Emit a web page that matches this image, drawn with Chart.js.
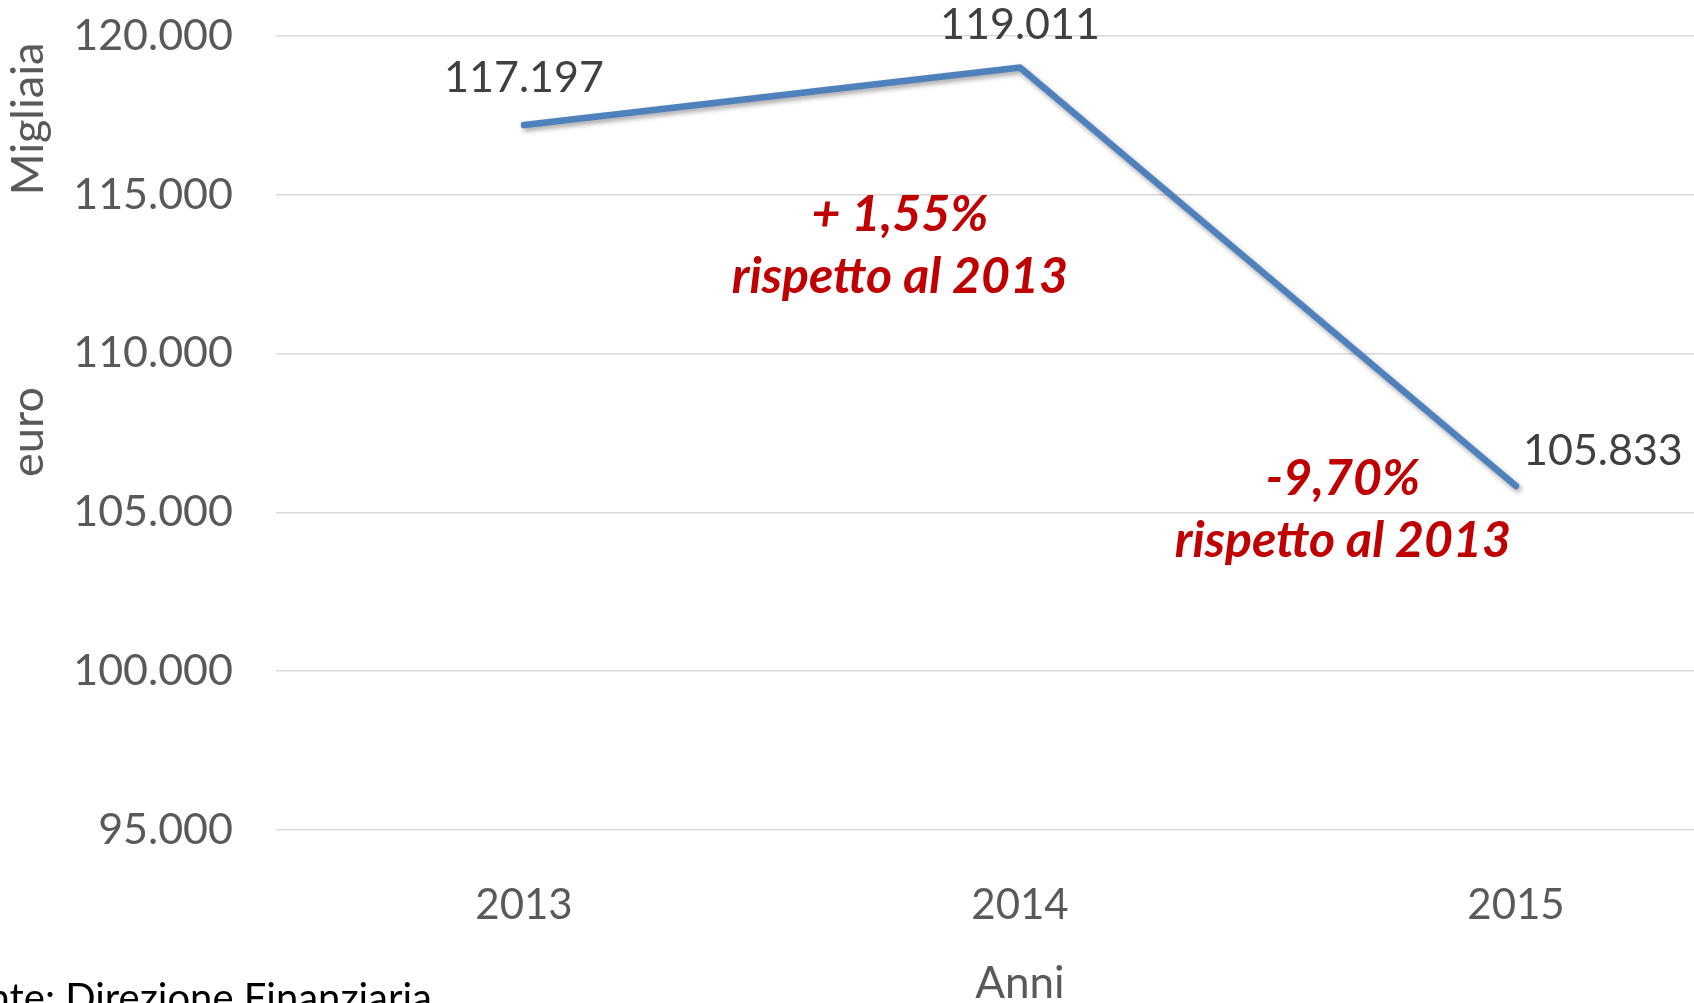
<!DOCTYPE html>
<html>
<head>
<meta charset="utf-8">
<script src="https://cdn.jsdelivr.net/npm/chart.js@4/dist/chart.umd.min.js"></script>
<style>
  html, body { margin: 0; padding: 0; background: #ffffff; overflow: hidden; }
  #wrap { position: absolute; left: 0; top: 0; width: 1780px; height: 1003px; }
  canvas { display: block; }
</style>
</head>
<body>
<div id="wrap"><canvas id="c" width="1780" height="1003"></canvas></div>
<script>
// ---- data ----
const categories = ['2013', '2014', '2015'];
const values = [117197, 119011, 105833];
const yTicks = [95000, 100000, 105000, 110000, 115000, 120000];
const yAxisWords = ['Migliaia', 'euro'];
const xAxisTitle = 'Anni';
const sourceNote = 'Fonte: Direzione Finanziaria';
const annotationTexts = [['+ 1,55%', 'rispetto al 2013'], ['-9,70%', 'rispetto al 2013']];

function fmt(v) {
  const s = Math.round(v).toString();
  return s.replace(/\B(?=(\d{3})+(?!\d))/g, '.');
}

const FONT = 'Lato, "Open Sans", sans-serif';

const shadowPlugin = {
  id: 'lineShadow',
  beforeDatasetDraw(chart) {
    const ctx = chart.ctx;
    ctx.save();
    ctx.shadowColor = 'rgba(0,0,0,0.35)';
    ctx.shadowBlur = 5;
    ctx.shadowOffsetX = 2;
    ctx.shadowOffsetY = 3;
  },
  afterDatasetDraw(chart) {
    chart.ctx.restore();
  }
};

const textPlugin = {
  id: 'texts',
  afterDraw(chart) {
    const ctx = chart.ctx;
    const xs = chart.scales.x, ys = chart.scales.y;
    const meta = chart.getDatasetMeta(0);
    ctx.save();
    // data labels
    const lblOff = [
      { dx: 0, dy: -47, align: 'center' },
      { dx: 0, dy: -42, align: 'center' },
      { dx: 7, dy: -35, align: 'left' }
    ];
    ctx.font = '43px ' + FONT;
    ctx.fillStyle = '#404040';
    ctx.textBaseline = 'middle';
    meta.data.forEach((pt, i) => {
      const o = lblOff[i];
      ctx.textAlign = o.align;
      ctx.fillText(fmt(values[i]), pt.x + o.dx, pt.y + o.dy);
    });
    // red annotations
    const annPos = [
      { xi: 0.758, yv: 114380 },
      { xi: 1.651, yv: 106070 }
    ];
    ctx.font = 'italic bold 50px ' + FONT;
    ctx.fillStyle = '#C00000';
    ctx.textAlign = 'center';
    annotationTexts.forEach((lines, k) => {
      const px = xs.getPixelForValue(annPos[k].xi);
      const py = ys.getPixelForValue(annPos[k].yv);
      lines.forEach((t, j) => ctx.fillText(t, px, py + j * 62));
    });
    // y axis title words
    ctx.font = '45px ' + FONT;
    ctx.fillStyle = '#595959';
    const wordY = [119, 432];
    yAxisWords.forEach((w, i) => {
      ctx.save();
      ctx.translate(28, wordY[i]);
      ctx.rotate(-Math.PI / 2);
      ctx.textAlign = 'center';
      ctx.textBaseline = 'middle';
      ctx.fillText(w, 0, 0);
      ctx.restore();
    });
    // x axis title
    ctx.font = '44px ' + FONT;
    ctx.textAlign = 'center';
    ctx.textBaseline = 'middle';
    ctx.fillText(xAxisTitle, xs.getPixelForValue(1), 984);
    // source note
    ctx.font = '40px ' + FONT;
    ctx.fillStyle = '#000000';
    ctx.textAlign = 'right';
    ctx.textBaseline = 'alphabetic';
    ctx.fillText(sourceNote, 432, 1012);
    ctx.restore();
  }
};

new Chart(document.getElementById('c'), {
  type: 'line',
  data: {
    labels: categories,
    datasets: [{
      data: values,
      borderColor: '#4F81BD',
      borderWidth: 6.5,
      borderCapStyle: 'round',
      borderJoinStyle: 'round',
      pointRadius: 0,
      pointHoverRadius: 0,
      tension: 0,
      fill: false
    }]
  },
  options: {
    responsive: false,
    devicePixelRatio: 1,
    animation: false,
    events: [],
    layout: { padding: { top: 36, right: 16, bottom: 0, left: 0 } },
    plugins: { legend: { display: false }, tooltip: { enabled: false } },
    scales: {
      x: {
        offset: true,
        grid: { display: false, drawTicks: false },
        border: { display: false },
        ticks: { color: '#595959', font: { family: FONT, size: 42 }, padding: 50, maxRotation: 0 },
        afterFit(s) { s.height = 173; s.paddingLeft = 0; s.paddingRight = 0; }
      },
      y: {
        min: 95000,
        max: 120000,
        afterBuildTicks(s) { s.ticks = yTicks.map(v => ({ value: v })); },
        grid: { color: '#D9D9D9', lineWidth: 1.5, drawTicks: false },
        border: { display: false },
        ticks: { color: '#595959', font: { family: FONT, size: 43 }, padding: 43, callback: v => fmt(v) },
        afterFit(s) { s.width = 276; s.paddingTop = 0; s.paddingBottom = 0; }
      }
    }
  },
  plugins: [shadowPlugin, textPlugin]
});
</script>
</body>
</html>
